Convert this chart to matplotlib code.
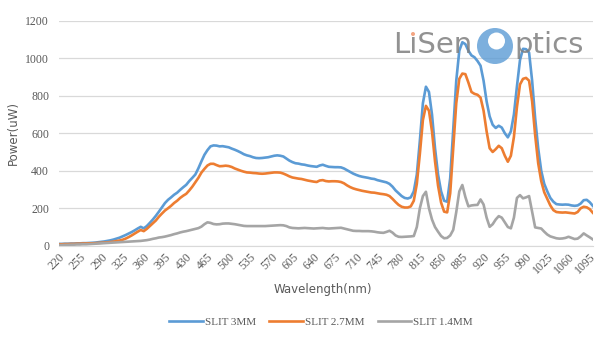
import matplotlib.pyplot as plt
from matplotlib.patches import Circle
import numpy as np

# wavelength categories, 220-1100 nm in 5 nm steps
wavelengths = list(range(220, 1101, 5))

slit_3mm = [
    10, 10, 11, 11, 12, 12, 13, 13, 14, 14, 15, 16, 17, 19, 21, 23, 26, 29, 33, 38,
    43, 50, 57, 65, 73, 82, 92, 101, 93, 105, 122, 140, 160, 182, 205, 228, 245, 258, 272, 283,
    298, 312, 325, 345, 362, 380, 413, 450, 485, 510, 530, 535, 534, 530, 531, 528, 525, 518, 512, 505,
    497, 488, 482, 478, 472, 468, 467, 468, 470, 472, 476, 480, 482, 480, 476, 465, 454, 446, 440, 438,
    434, 432, 428, 425, 423, 421, 428, 432, 426, 421, 420, 419, 419, 418, 412, 403, 394, 385, 378, 372,
    368, 365, 362, 358, 356, 350, 346, 342, 338, 330, 315, 295, 280, 265, 255, 252, 258, 290, 380, 560,
    760, 848, 820, 700, 520, 380, 290, 240, 235, 360, 620, 880, 1040, 1085, 1075, 1040, 1015, 1005, 985, 960,
    880, 770, 690, 645, 628, 640, 630, 600, 578, 610, 700, 850, 990, 1050, 1048, 1030, 880, 680, 520, 400,
    330, 290, 255, 235, 222, 220, 219, 220, 219, 215, 213, 215, 225, 243, 245, 232, 213,
]

slit_2_7mm = [
    8, 8, 9, 9, 10, 10, 11, 11, 12, 12, 13, 13, 14, 15, 16, 17, 18, 20, 22, 25,
    28, 32, 38, 46, 55, 65, 75, 84, 78, 90, 105, 120, 135, 155, 172, 188, 200, 213, 228, 240,
    255, 267, 277, 295, 315, 338, 362, 390, 410, 428, 437, 437, 430, 424, 425, 427, 425, 420, 412, 406,
    400, 395, 391, 390, 388, 387, 385, 384, 385, 387, 389, 391, 391, 390, 385, 378, 370, 364, 361, 358,
    356, 352, 348, 345, 342, 340, 348, 350, 345, 343, 344, 344, 343, 340, 333, 322, 313, 306, 301, 297,
    293, 290, 287, 284, 283, 280, 277, 275, 272, 265, 250, 233, 218, 208, 204, 204, 210, 240, 330, 490,
    670, 746, 720, 610, 450, 320, 230, 182, 178, 280, 520, 760, 890, 918, 915, 870, 820, 810, 805, 790,
    720, 610, 520, 500, 515, 533, 520, 480, 448, 480, 580, 740, 860, 890, 895, 880, 770, 590, 440, 345,
    285, 250, 215, 190, 180, 178, 177, 178, 176, 174, 172, 180, 200, 208, 205, 195, 176,
]

slit_1_4mm = [
    4, 4, 5, 5, 6, 6, 7, 7, 8, 8, 9, 10, 11, 12, 13, 14, 15, 16, 17, 18,
    19, 20, 21, 22, 23, 24, 25, 26, 28, 30, 33, 37, 40, 44, 46, 49, 53, 57, 62, 66,
    71, 75, 78, 82, 86, 90, 94, 102, 115, 125, 122, 116, 114, 115, 118, 119, 119, 117, 115, 112,
    109, 106, 105, 105, 105, 105, 105, 105, 105, 106, 107, 108, 109, 110, 109, 105, 98, 95, 94, 93,
    94, 95, 94, 93, 92, 93, 94, 95, 93, 92, 93, 94, 95, 96, 92, 88, 84, 80, 79, 79,
    78, 78, 78, 77, 75, 72, 70, 69, 74, 80, 70, 55, 48, 47, 48, 49, 50, 52, 100, 200,
    265, 288, 200, 140, 100, 75, 52, 40, 42, 55, 85, 180, 290, 324, 260, 210, 215, 217, 218, 247,
    220, 150, 101, 115, 140, 158, 150, 125, 100, 93, 150, 255, 270, 253, 258, 265, 180, 98, 95, 92,
    75, 60, 50, 45, 40, 38, 39, 42, 48, 42, 36, 38, 50, 66, 55, 45, 34,
]

series_names = ['SLIT 3MM', 'SLIT 2.7MM', 'SLIT 1.4MM']
series_colors = ['#5B9BD5', '#ED7D31', '#A5A5A5']

text_grey = '#595959'
serif = ['Liberation Serif', 'DejaVu Serif']

fig = plt.figure(figsize=(6, 3.39), dpi=100)
ax = fig.add_axes([0.098, 0.275, 0.89, 0.664])

idx = np.arange(len(wavelengths))
for vals, name, col in zip([slit_3mm, slit_2_7mm, slit_1_4mm], series_names, series_colors):
    ax.plot(idx, vals, color=col, lw=1.9, label=name, solid_joinstyle='round')

ax.set_xlim(0, len(wavelengths) - 1)
ax.set_ylim(0, 1200)
ax.set_yticks(range(0, 1201, 200))
ax.set_xticks(idx[::7])
ax.set_xticklabels([str(w) for w in wavelengths[::7]], rotation=45,
                   ha='right', va='top', rotation_mode='anchor')
ax.tick_params(axis='both', length=0, labelsize=8.5, colors=text_grey)
ax.tick_params(axis='y', pad=7)
ax.tick_params(axis='x', pad=4)
for lbl in ax.get_xticklabels() + ax.get_yticklabels():
    lbl.set_family(serif)

ax.grid(axis='y', color='#D9D9D9', lw=0.9)
ax.set_axisbelow(True)
for side in ['top', 'right', 'left']:
    ax.spines[side].set_visible(False)
ax.spines['bottom'].set_color('#D9D9D9')

ax.set_ylabel('Power(uW)', fontsize=8.5, color=text_grey, labelpad=4)
fig.text(0.538, 0.145, 'Wavelength(nm)', ha='center', va='center',
         fontsize=8.5, color=text_grey)

leg = fig.legend(loc='center', bbox_to_anchor=(0.535, 0.05), ncol=3, frameon=False,
                 handlelength=3.0, columnspacing=1.2, handletextpad=0.2,
                 prop={'family': serif, 'size': 8})
for t in leg.get_texts():
    t.set_color(text_grey)

# company logo watermark, positions given in pixels from the top-left corner
def px(x, y):
    return (x / 100, (339 - y) / 100)

fig.text(0.655, 0.867, 'L\u0131Sen', fontsize=21, color='#7f7f7f', alpha=0.85,
         ha='left', va='center', family='DejaVu Sans', zorder=10)
fig.text(0.857, 0.867, 'ptics', fontsize=21, color='#7f7f7f', alpha=0.85,
         ha='left', va='center', family='DejaVu Sans', zorder=10)
fig.patches.append(Circle(px(495, 46), 0.18, transform=fig.dpi_scale_trans,
                          facecolor='#5B9BD5', alpha=0.8, edgecolor='none', zorder=10))
fig.patches.append(Circle(px(496.5, 41), 0.085, transform=fig.dpi_scale_trans,
                          facecolor='white', edgecolor='none', zorder=11))
fig.patches.append(Circle(px(413, 34), 0.02, transform=fig.dpi_scale_trans,
                          facecolor='#F4A582', edgecolor='none', zorder=11))

fig.savefig('out.png', dpi=100)
